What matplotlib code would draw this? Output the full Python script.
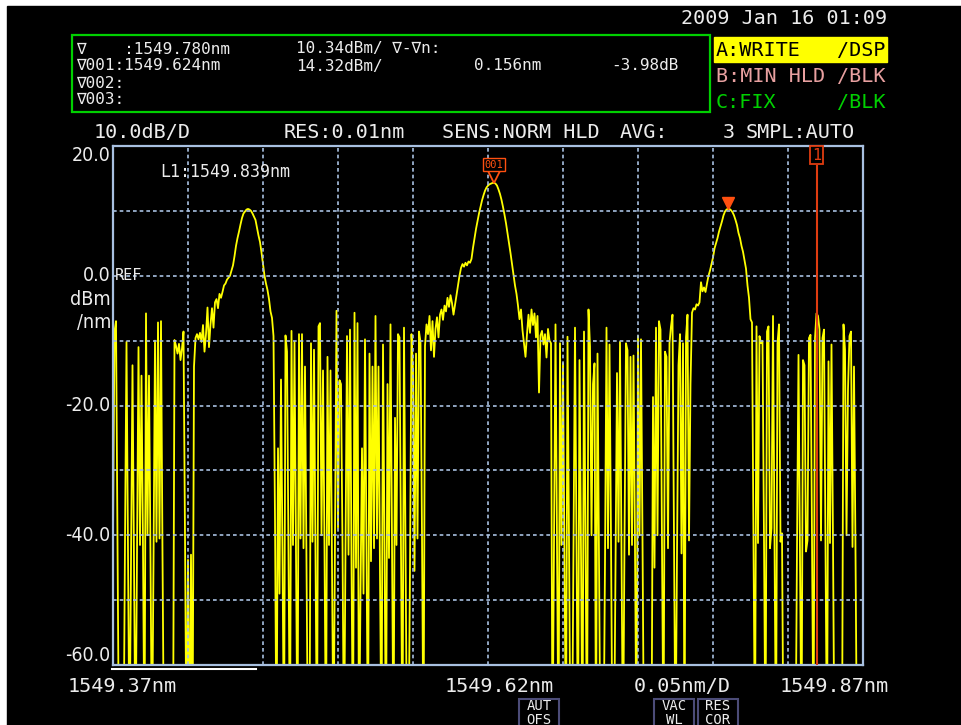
import matplotlib
matplotlib.use("Agg")
import matplotlib.pyplot as plt
from matplotlib.patches import Rectangle
from matplotlib.lines import Line2D
from matplotlib import transforms
import numpy as np

# trace A: 501 samples across the span, dBm (anything under -60 sits below the screen)
level_dbm = [
    -40.5, -8.6, -7.0, -40.0, -75, -75, -75, -75, -41.0, -10.2,
    -42.5, -75, -43.8, -13.8, -44.0, -75, -43.0, -11.0, -41.5, -15.4,
    -42.0, -75, -5.8, -40.0, -15.4, -43.5, -75, -44.0, -10.0, -41.0,
    -7.2, -40.5, -7.0, -43.0, -75, -75, -75, -75, -75, -75,
    -75, -9.9, -10.8, -12.0, -10.5, -13.0, -11.2, -8.6, -40.2, -75,
    -43.8, -75, -43.0, -75, -14.0, -9.6, -9.0, -9.8, -8.8, -10.2,
    -7.6, -11.7, -9.0, -4.9, -11.0, -7.5, -5.0, -8.0, -4.1, -3.6,
    -5.0, -2.8, -3.4, -2.5, -1.5, -1.2, -0.6, -0.3, 0.0, 0.8,
    1.6, 3.0, 4.6, 5.8, 6.8, 7.9, 8.9, 9.6, 9.9, 10.2,
    10.3, 10.2, 10.0, 9.6, 9.1, 8.6, 7.4, 6.2, 5.2, 3.6,
    1.8, 0.0, -1.2, -2.2, -3.6, -5.5, -6.5, -9.3, -37.6, -75,
    -26.6, -49.0, -16.0, -43.0, -75, -9.2, -11.7, -42.0, -75, -8.5,
    -41.5, -10.2, -43.8, -75, -9.0, -40.5, -9.0, -42.0, -14.0, -44.0,
    -75, -75, -10.4, -41.0, -11.4, -43.0, -75, -7.8, -7.3, -40.0,
    -14.6, -42.0, -75, -12.5, -41.5, -14.6, -44.0, -75, -40.0, -5.4,
    -38.8, -16.1, -16.7, -41.5, -75, -42.5, -9.3, -43.0, -8.3, -44.5,
    -75, -5.7, -45.0, -7.3, -75, -49.0, -26.6, -49.0, -9.8, -42.0,
    -75, -12.0, -44.0, -14.0, -42.0, -6.2, -40.5, -14.0, -46.0, -75,
    -10.6, -41.0, -75, -16.7, -43.5, -7.5, -40.0, -75, -21.9, -41.5,
    -9.0, -9.5, -43.0, -75, -8.0, -41.0, -75, -75, -45.0, -9.0,
    -14.6, -45.5, -12.0, -40.5, -8.6, -10.2, -40.0, -75, -10.8, -7.5,
    -9.0, -6.2, -11.5, -7.0, -12.5, -8.2, -6.4, -9.5, -6.0, -5.2,
    -6.8, -4.6, -5.5, -3.4, -4.8, -3.0, -4.2, -6.0, -4.5, -3.1,
    -1.5, 0.0, 1.2, 1.8, 1.4, 2.0, 1.6, 2.2, 2.0, 2.6,
    4.3, 5.8, 7.2, 8.4, 9.6, 10.6, 11.6, 12.4, 13.1, 13.6,
    13.9, 14.1, 14.2, 14.3, 14.32, 14.2, 13.9, 13.3, 12.6, 11.7,
    10.6, 9.4, 8.1, 6.6, 5.0, 3.5, 1.8, 0.2, -1.5, -2.8,
    -4.6, -6.7, -5.2, -8.4, -10.4, -12.5, -9.0, -6.0, -8.8, -5.2,
    -7.6, -5.8, -9.5, -6.2, -18.0, -9.2, -8.5, -10.6, -9.0, -12.6,
    -8.2, -10.0, -10.4, -75, -42.0, -7.5, -40.5, -75, -10.4, -41.5,
    -13.5, -44.0, -75, -9.4, -40.8, -75, -75, -42.0, -8.0, -41.0,
    -75, -13.0, -42.5, -75, -8.6, -40.2, -75, -5.2, -10.9, -40.0,
    -16.7, -13.5, -75, -12.0, -44.0, -75, -75, -75, -44.0, -8.0,
    -42.0, -10.6, -40.5, -75, -75, -45.0, -15.0, -41.0, -10.2, -42.0,
    -75, -40.8, -10.4, -11.5, -43.0, -12.5, -41.5, -12.3, -42.0, -75,
    -9.3, -40.0, -9.8, -40.5, -75, -75, -75, -75, -75, -75,
    -18.7, -45.0, -8.0, -40.0, -7.0, -8.3, -41.5, -75, -11.7, -12.5,
    -42.0, -10.4, -7.8, -6.0, -40.5, -75, -43.0, -13.8, -9.0, -42.8,
    -10.4, -75, -9.5, -6.0, -40.8, -16.7, -5.7, -5.0, -5.2, -4.4,
    -4.6, -4.1, -1.0, -2.4, -1.8, -2.5, -1.2, 0.0, 0.8, 1.8,
    2.8, 4.2, 5.0, 5.8, 6.8, 7.6, 8.4, 9.3, 9.9, 10.2,
    10.34, 10.3, 10.1, 9.8, 9.3, 8.6, 7.8, 6.6, 5.8, 4.6,
    3.7, 2.4, 1.1, -1.5, -3.4, -6.7, -7.2, -41.0, -75, -7.8,
    -41.2, -9.3, -10.4, -10.1, -40.5, -75, -8.6, -7.8, -42.0, -38.9,
    -6.2, -41.5, -75, -10.4, -7.5, -41.0, -39.7, -75, -75, -75,
    -75, -75, -75, -75, -75, -75, -42.0, -12.2, -42.3, -75,
    -13.0, -13.8, -42.5, -40.8, -9.6, -9.1, -40.5, -75, -9.6, -5.8,
    -6.2, -8.3, -40.8, -9.6, -8.3, -42.3, -75, -13.2, -41.2, -10.6,
    -41.2, -75, -75, -75, -75, -75, -75, -7.5, -11.4, -40.0,
    -17.5, -9.3, -8.6, -41.8, -14.0, -42.5, -75, -75, -75, -75,
    -75,
]

wl_start, wl_stop = 1549.37, 1549.87
ref_top, ref_bottom = 20.0, -60.0
ylabels = [20.0, 0.0, -20.0, -40.0, -60.0]

# markers: moving marker, fixed marker 001 and line marker L1
mk_wl, mk_dbm = 1549.780, 10.34
mk1_wl, mk1_dbm = 1549.624, 14.32
l1_wl = 1549.839

W, H = 961, 725
MONO = "DejaVu Sans Mono"
TXT = "#ececec"
GRID = "#a8c0e0"
ORANGE = "#ff5010"

fig = plt.figure(figsize=(W / 100, H / 100), dpi=100)
fig.patch.set_facecolor("white")
fig.add_artist(Rectangle((7 / W, 0), (W - 7) / W, (H - 6) / H,
                         transform=fig.transFigure, color="black", zorder=0))


def put(x, y, s, **kw):
    kw.setdefault("family", MONO)
    kw.setdefault("color", TXT)
    kw.setdefault("va", "center")
    return fig.text(x / W, 1 - y / H, s, **kw)


def box(x0, y0, x1, y1, **kw):
    fig.add_artist(Rectangle((x0 / W, 1 - y1 / H), (x1 - x0) / W, (y1 - y0) / H,
                             transform=fig.transFigure, **kw))


# top status area
put(887, 19, "2009 Jan 16 01:09", ha="right", size=14.5)
box(72, 35, 710, 112, fill=False, ec="#00d000", lw=1.6)
bsz = 11.5
rows = [49, 66, 83, 100]
put(76, rows[0], "∇    :1549.780nm", size=bsz)
put(296, rows[0], "10.34dBm/ ∇-∇n:", size=bsz)
put(76, rows[1], "∇001:1549.624nm", size=bsz)
put(296, rows[1], "14.32dBm/", size=bsz)
put(474, rows[1], "0.156nm", size=bsz)
put(611, rows[1], "-3.98dB", size=bsz)
put(76, rows[2], "∇002:", size=bsz)
put(76, rows[3], "∇003:", size=bsz)

box(714, 37, 887, 62, color="#ffff00")
put(716, 50, "A:WRITE", color="black", size=14.5)
put(886, 50, "/DSP", color="black", size=14.5, ha="right")
put(716, 77, "B:MIN HLD", color="#e8a0a0", size=14.5)
put(886, 77, "/BLK", color="#e8a0a0", size=14.5, ha="right")
put(716, 103, "C:FIX", color="#00d000", size=14.5)
put(886, 103, "/BLK", color="#00d000", size=14.5, ha="right")

put(94, 132, "10.0dB/D", size=14.5)
put(284, 132, "RES:0.01nm", size=14.5)
put(442, 132, "SENS:NORM HLD", size=14.5)
put(620, 132, "AVG:", size=14.5)
put(723, 132, "3", size=14.5)
put(746, 132, "SMPL:AUTO", size=14.5)

# trace area
ax = fig.add_axes([113 / W, (H - 665) / H, 750 / W, 519 / H])
ax.set_facecolor("black")
wl = np.linspace(wl_start, wl_stop, len(level_dbm))
ax.plot(wl, level_dbm, color="#ffff00", lw=1.3, zorder=2)
ax.set_xlim(wl_start, wl_stop)
ax.set_ylim(ref_bottom, ref_top)
ax.set_xticks(np.linspace(wl_start, wl_stop, 11))
ax.set_yticks(np.linspace(ref_bottom, ref_top, 9))
ax.tick_params(length=0, labelbottom=False, labelleft=False)
ax.set_axisbelow(False)
ax.grid(True, color=GRID, lw=1.2, linestyle=(0, (2.2, 1.8)))
for sp in ax.spines.values():
    sp.set_color(GRID)
    sp.set_linewidth(1.6)

# left scale, condensed lettering
ylab_tf = transforms.blended_transform_factory(ax.transAxes, ax.transData)
for v in ylabels:
    va = "top" if v == ref_top else ("bottom" if v == ref_bottom else "center")
    ax.text(-0.003, v, f"{v:.1f}", transform=ylab_tf, ha="right", va=va,
            color=TXT, family="DejaVu Sans", stretch="condensed", size=14,
            clip_on=False)
ax.text(0.002, 0.0, "REF", transform=ylab_tf, ha="left", va="center",
        color=TXT, family=MONO, size=11)
put(111, 300, "dBm", ha="right", family="DejaVu Sans", stretch="condensed", size=14)
put(111, 322, "/nm", ha="right", family="DejaVu Sans", stretch="condensed", size=14)

put(160, 172, "L1:1549.839nm", size=12)

# markers
tip = transforms.offset_copy(ax.transData, fig=fig, y=5.5, units="dots")
ax.plot([mk1_wl], [mk1_dbm], marker="v", ms=8, mfc="none", mec=ORANGE,
        mew=1.3, transform=tip, clip_on=False, zorder=4)
lab = transforms.offset_copy(ax.transData, fig=fig, y=18, units="dots")
ax.text(mk1_wl, mk1_dbm, "001", transform=lab, ha="center", va="center",
        color=ORANGE, family=MONO, size=7.5, zorder=4,
        bbox=dict(boxstyle="square,pad=0.15", fc="black", ec=ORANGE, lw=1))
ax.plot([mk_wl], [mk_dbm], marker="v", ms=8, color=ORANGE,
        transform=tip, clip_on=False, zorder=4)

ax.axvline(l1_wl, ymin=0, ymax=0.962, color="#e03c10", lw=1.5, zorder=4)
top_tf = transforms.blended_transform_factory(ax.transData, ax.transAxes)
ax.text(l1_wl, 0.982, "1", transform=top_tf, ha="center", va="center",
        color="#e03c10", family=MONO, size=11, zorder=4,
        bbox=dict(boxstyle="square,pad=0.1", fc="black", ec="#e03c10", lw=1.3))

# scale annotations under the trace
fig.add_artist(Line2D([112 / W, 256 / W], [1 - 669 / H, 1 - 669 / H],
                      color="white", lw=1.5, transform=fig.transFigure))
put(68, 686, "1549.37nm", size=14.5)
put(445, 686, "1549.62nm", size=14.5)
put(634, 686, "0.05nm/D", size=14.5)
put(780, 686, "1549.87nm", size=14.5)

for x0, x1, s in [(519, 559, "AUT\nOFS"), (654, 694, "VAC\nWL"), (698, 738, "RES\nCOR")]:
    box(x0, 699, x1, 727, fill=False, ec="#4c4c78", lw=1.5)
    put((x0 + x1) / 2, 713, s, ha="center", size=10, linespacing=0.95)

fig.savefig("out.png", dpi=100, facecolor=fig.get_facecolor())
